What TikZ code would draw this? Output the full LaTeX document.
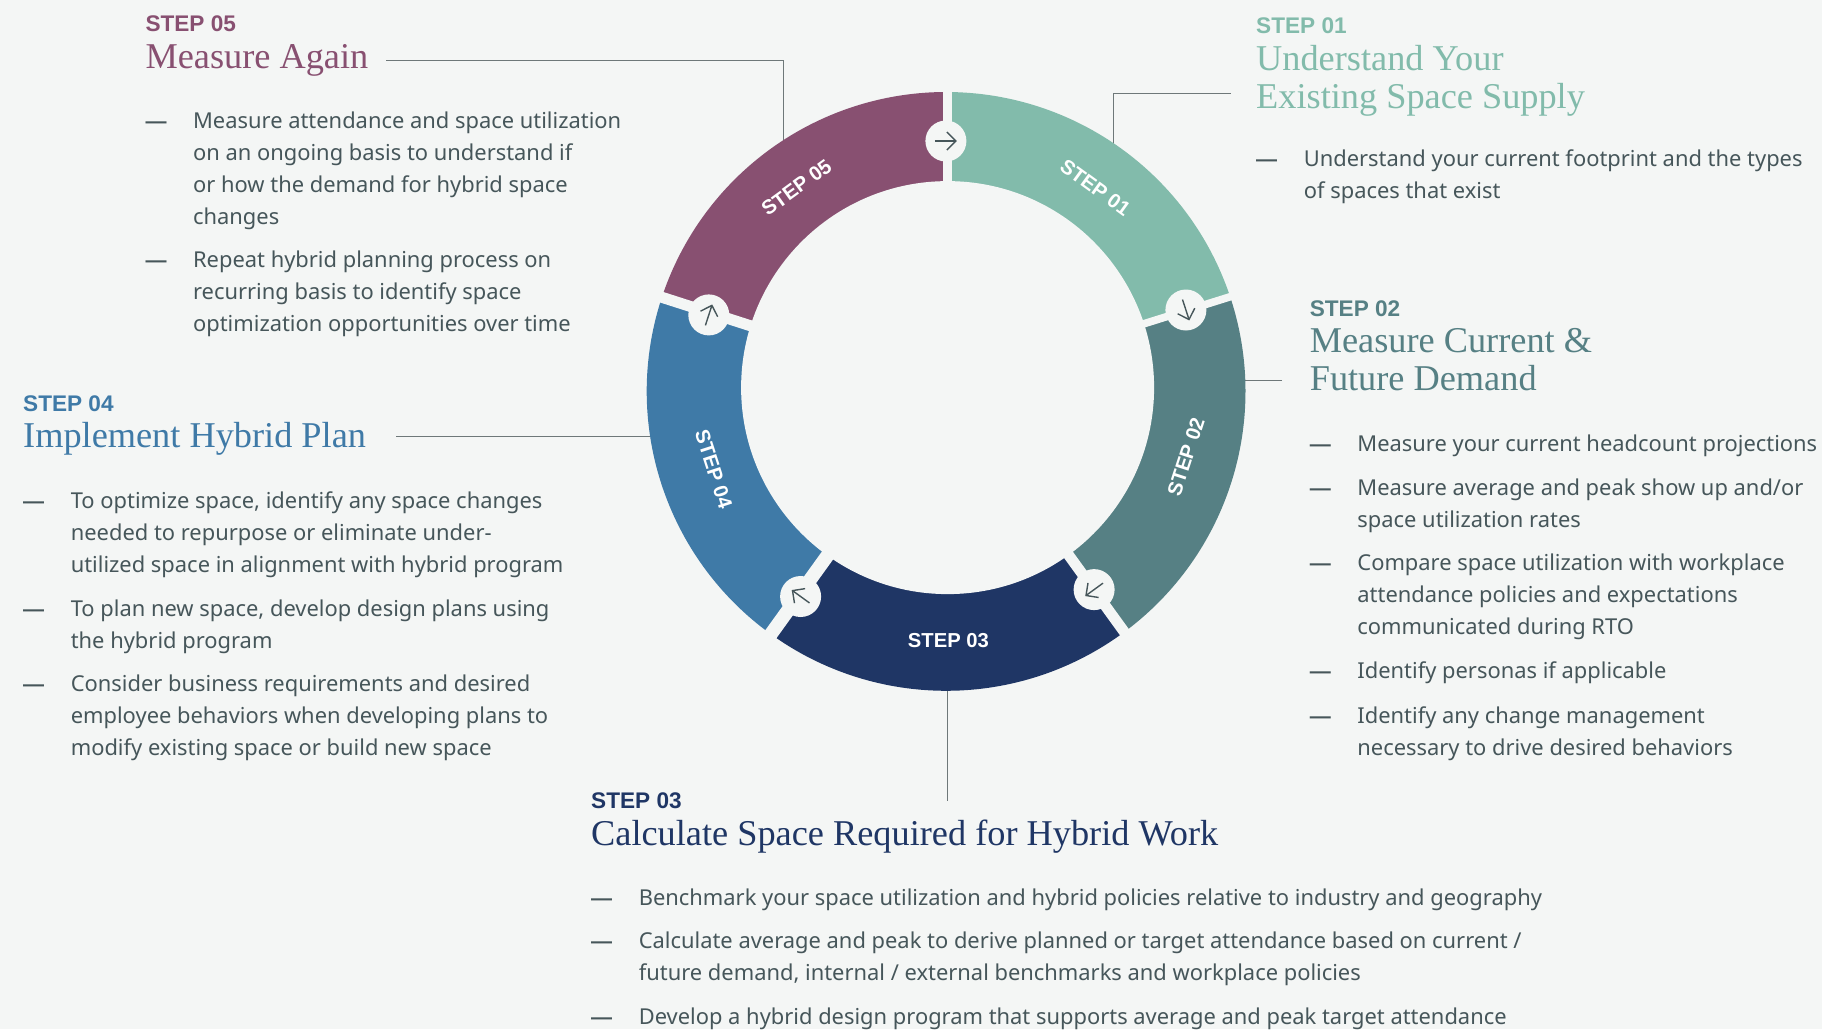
\documentclass[tikz,border=0pt]{standalone}
\usepackage{fontspec}
\setmainfont{Liberation Serif}
\newfontfamily\bodyfont{Noto Sans}
\newfontfamily\tagfont{Liberation Sans}
\usetikzlibrary{arrows.meta, calc, positioning}
\definecolor{pageBg}{HTML}{F4F6F5}
\definecolor{bodyInk}{HTML}{46565A}
\definecolor{leadInk}{HTML}{6E7879}
\definecolor{stepA}{HTML}{82BBAB}
\definecolor{stepB}{HTML}{568084}
\definecolor{stepC}{HTML}{1F3665}
\definecolor{stepD}{HTML}{3F7AA7}
\definecolor{stepE}{HTML}{885071}
\tikzset{
    stepTag/.style={anchor=base west, inner sep=0pt, font=\tagfont\bfseries\fontsize{22.6}{26}\selectfont},
    stepHead/.style={anchor=base west, inner sep=0pt, align=left, font=\fontsize{36.3}{38}\selectfont},
    bulletDash/.style={anchor=base west, inner sep=0pt, text=bodyInk, font=\tagfont\bfseries\fontsize{21}{32}\selectfont},
    bulletText/.style={anchor=base west, inner sep=0pt, text=bodyInk, font=\bodyfont\fontsize{21.9}{32}\selectfont},
    ringLabel/.style={inner sep=0pt, text=white, font=\tagfont\bfseries\fontsize{20.2}{24}\selectfont},
    badge/.style={circle, fill=pageBg, inner sep=0pt, minimum size=41pt},
    leadLine/.style={draw=leadInk, line width=1pt},
    gapLine/.style={draw=pageBg, shorten <=-8pt, shorten >=-8pt},
    badgeArrow/.style={-{Straight Barb[length=9pt, width=18pt]}, draw=bodyInk, line width=1.4pt},
}
\newcommand{\drawSegment}[5]{
    \fill[#1] (hub) -- (#2) -- ($(rim)+(#3:299.4pt)$) arc[start angle=#3, end angle=#4, radius=299.4pt] -- (#5) -- cycle;
}
\newcommand{\drawGap}[3]{
    \draw[gapLine, line width=#1pt] (#2) -- (#3);
}
\newcommand{\drawBadge}[4]{
    \node[badge] (#1) at (#2,#3) {};
    \coordinate (#1tail) at ($(#1)+(#4+180:11pt)$);
    \coordinate (#1tip) at ($(#1)+(#4:11pt)$);
    \draw[badgeArrow] (#1tail) -- (#1tip);
}
\newcommand{\drawBullet}[4]{
    \node[bulletDash] (#1dash) at (#2,#3) {—};
    \node[bulletText] (#1) at (#2+47.6,#3) {\begin{tabular}[t]{@{}l@{}}#4\end{tabular}};
}

\begin{document}
\begin{tikzpicture}[x=1pt, y=-1pt]

    \fill[pageBg] (0,0) rectangle (1822,1029);
    \useasboundingbox (0,0) rectangle (1822,1029);

    % leader lines
    \coordinate (lead01) at (1230.6,93.3);
    \coordinate (ring01) at (1113,145);
    \coordinate (lead02) at (1282,380);
    \coordinate (ring02) at (1240,380);
    \coordinate (lead03) at (947,800.6);
    \coordinate (ring03) at (947,685);
    \coordinate (lead04) at (396,436.5);
    \coordinate (ring04) at (655,436.5);
    \coordinate (lead05) at (386,60.5);
    \coordinate (ring05) at (783.5,145);
    \draw[leadLine] (lead01) -| (ring01);
    \draw[leadLine] (lead02) -- (ring02);
    \draw[leadLine] (lead03) -- (ring03);
    \draw[leadLine] (lead04) -- (ring04);
    \draw[leadLine] (lead05) -| (ring05);

    % ring
    \coordinate (rim) at (946.1,391.4);
    \coordinate (hub) at (947.6,387.6);
    \coordinate (outerEA) at (947.3,92);
    \coordinate (innerEA) at (947.3,181);
    \coordinate (outerAB) at (1229.4,297);
    \coordinate (innerAB) at (1144.1,323.7);
    \coordinate (outerBC) at (1122.4,629.4);
    \coordinate (innerBC) at (1068.8,555.3);
    \coordinate (outerCD) at (773.3,630.8);
    \coordinate (innerCD) at (827.3,555.8);
    \coordinate (outerDE) at (664.1,298);
    \coordinate (innerDE) at (750.6,325.8);
    \drawSegment{stepA}{innerEA}{89.8}{18.43}{innerAB}
    \drawSegment{stepB}{innerAB}{18.43}{-53.5}{innerBC}
    \drawSegment{stepC}{innerBC}{-53.5}{-125.8}{innerCD}
    \drawSegment{stepD}{innerCD}{-125.8}{-198.3}{innerDE}
    \drawSegment{stepE}{innerDE}{161.7}{89.8}{innerEA}
    \fill[pageBg] (hub) circle[radius=206.5pt];
    \drawGap{9.4}{outerEA}{innerEA}
    \drawGap{7.6}{outerAB}{innerAB}
    \drawGap{10.8}{outerBC}{innerBC}
    \drawGap{13.7}{outerCD}{innerCD}
    \drawGap{11}{outerDE}{innerDE}

    \drawBadge{badgeA}{945.9}{141}{0}
    \drawBadge{badgeB}{1185.9}{310}{-72}
    \drawBadge{badgeC}{1094.1}{589.6}{-144}
    \drawBadge{badgeD}{800.6}{596.5}{144}
    \drawBadge{badgeE}{708.8}{314.9}{72}

    \node[ringLabel, rotate=-36] (ringA) at (1095.3,187.6) {STEP 01};
    \node[ringLabel, rotate=72] (ringB) at (1185.9,456.9) {STEP 02};
    \node[ringLabel] (ringC) at (948.4,640.6) {STEP 03};
    \node[ringLabel, rotate=-72] (ringD) at (713.7,469.2) {STEP 04};
    \node[ringLabel, rotate=36] (ringE) at (796.5,187.6) {STEP 05};

    % step 01
    \node[stepTag, text=stepA] (tag01) at (1256,33) {STEP 01};
    \node[stepHead, text=stepA] (head01) at (1256,108) {Understand Your\\Existing Space Supply};
    \drawBullet{item01a}{1256}{166.5}{Understand your current footprint and the types\\of spaces that exist}

    % step 02
    \node[stepTag, text=stepB] (tag02) at (1309.6,316) {STEP 02};
    \node[stepHead, text=stepB] (head02) at (1309.6,390) {Measure Current \&\\Future Demand};
    \drawBullet{item02a}{1309.6}{451.2}{Measure your current headcount projections}
    \drawBullet{item02b}{1309.6}{495.3}{Measure average and peak show up and/or\\space utilization rates}
    \drawBullet{item02c}{1309.6}{570.9}{Compare space utilization with workplace\\attendance policies and expectations\\communicated during RTO}
    \drawBullet{item02d}{1309.6}{678.9}{Identify personas if applicable}
    \drawBullet{item02e}{1309.6}{723.1}{Identify any change management\\necessary to drive desired behaviors}

    % step 03
    \node[stepTag, text=stepC] (tag03) at (591,808) {STEP 03};
    \node[stepHead, text=stepC] (head03) at (591,845) {Calculate Space Required for Hybrid Work};
    \drawBullet{item03a}{591}{905.5}{Benchmark your space utilization and hybrid policies relative to industry and geography}
    \drawBullet{item03b}{591}{948.5}{Calculate average and peak to derive planned or target attendance based on current /\\future demand, internal / external benchmarks and workplace policies}
    \drawBullet{item03c}{591}{1024.1}{Develop a hybrid design program that supports average and peak target attendance}

    % step 04
    \node[stepTag, text=stepD] (tag04) at (23,411) {STEP 04};
    \node[stepHead, text=stepD] (head04) at (23,447) {Implement Hybrid Plan};
    \drawBullet{item04a}{23}{508.1}{To optimize space, identify any space changes\\needed to repurpose or eliminate under-\\utilized space in alignment with hybrid program}
    \drawBullet{item04b}{23}{616.2}{To plan new space, develop design plans using\\the hybrid program}
    \drawBullet{item04c}{23}{691.7}{Consider business requirements and desired\\employee behaviors when developing plans to\\modify existing space or build new space}

    % step 05
    \node[stepTag, text=stepE] (tag05) at (145.3,31) {STEP 05};
    \node[stepHead, text=stepE] (head05) at (145.3,68.6) {Measure Again};
    \drawBullet{item05a}{145.3}{128.1}{Measure attendance and space utilization\\on an ongoing basis to understand if\\or how the demand for hybrid space\\changes}
    \drawBullet{item05b}{145.3}{267.6}{Repeat hybrid planning process on\\recurring basis to identify space\\optimization opportunities over time}

\end{tikzpicture}
\end{document}
